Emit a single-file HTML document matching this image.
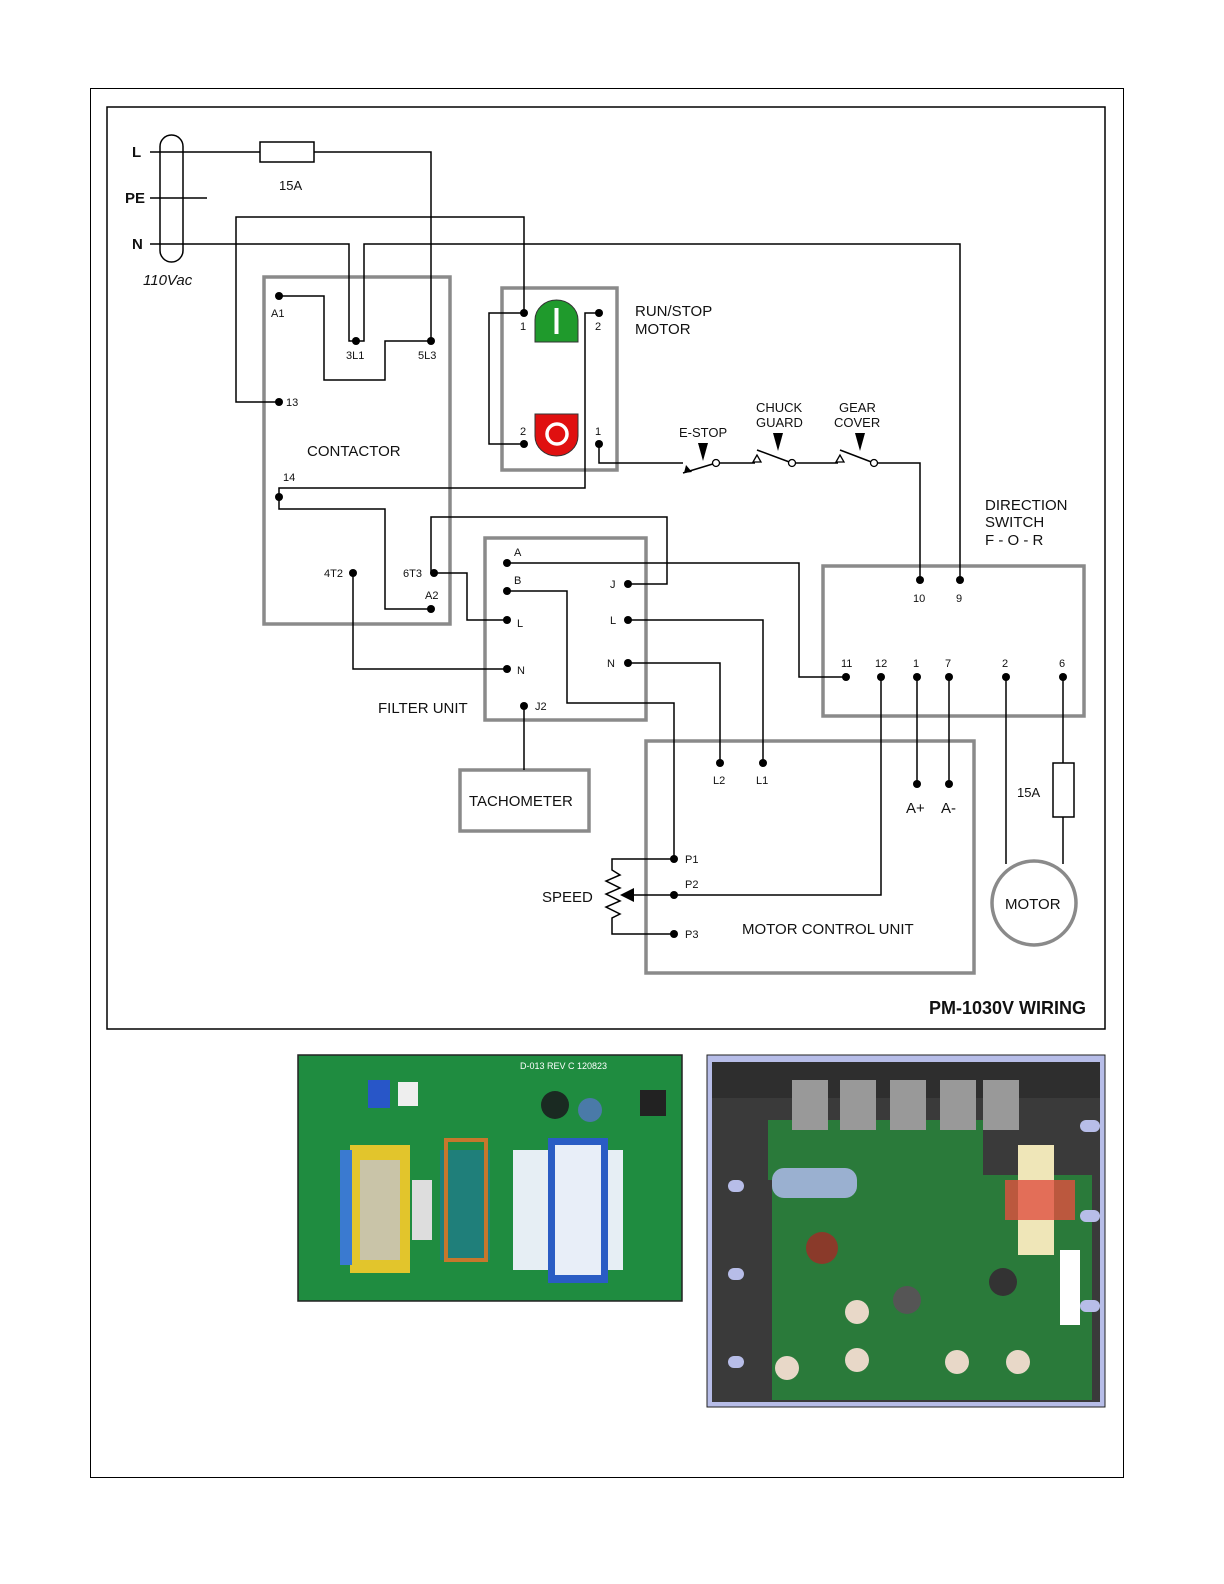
<!DOCTYPE html>
<html><head><meta charset="utf-8"><style>
html,body{margin:0;padding:0;background:#fff;width:1224px;height:1584px;overflow:hidden}
svg{display:block}
text{font-family:"Liberation Sans",Arial,sans-serif;fill:#111}
</style></head><body>
<svg width="1224" height="1584" viewBox="0 0 1224 1584" xmlns="http://www.w3.org/2000/svg" style="position:absolute;left:0;top:0">
<rect x="90.5" y="88.5" width="1033" height="1389" fill="none" stroke="#000" stroke-width="1"/>
<rect x="107" y="107" width="998" height="922" fill="none" stroke="#000" stroke-width="1.5"/>

<g fill="none" stroke="#8a8a8a" stroke-width="3.5">
<rect x="264" y="277" width="186" height="347"/>
<rect x="502" y="288" width="115" height="182"/>
<rect x="485" y="538" width="161" height="182"/>
<rect x="460" y="770" width="129" height="61"/>
<rect x="646" y="741" width="328" height="232"/>
<rect x="823" y="566" width="261" height="150"/>
<circle cx="1034" cy="903" r="42"/>
</g>

<g fill="none" stroke="#000" stroke-width="1.5">
<rect x="160" y="135" width="23" height="127" rx="11.5"/>
<polyline points="150,152 431,152 431,341"/>
<rect x="260" y="142" width="54" height="20" fill="#fff"/>
<line x1="150" y1="198" x2="207" y2="198"/>
<polyline points="150,244 349,244 349,341 356,341"/>
<polyline points="356,341 364,341 364,244 960,244 960,580"/>
<polyline points="279,402 236,402 236,217 524,217 524,313"/>
<polyline points="279,296 324,296 324,380 385,380 385,341 431,341"/>
<polyline points="524,313 489,313 489,444 524,444"/>
<polyline points="599,313 585,313 585,488 279,488 279,509 385,509 385,609 431,609"/>
<polyline points="599,444 599,463 683,463"/>
<line x1="683" y1="473" x2="716" y2="463"/>
<line x1="720" y1="463" x2="755" y2="463"/>
<line x1="757" y1="450" x2="792" y2="463"/>
<line x1="796" y1="463" x2="838" y2="463"/>
<line x1="840" y1="450" x2="874" y2="463"/>
<polyline points="878,463 920,463 920,580"/>
<polyline points="434,573 431,573 431,517 667,517 667,584 628,584"/>
<polyline points="434,573 467,573 467,620 507,620"/>
<polyline points="353,573 353,669 507,669"/>
<polyline points="507,563 799,563 799,677 846,677"/>
<polyline points="507,591 567,591 567,703 674,703 674,859"/>
<polyline points="628,620 763,620 763,763"/>
<polyline points="628,663 720,663 720,763"/>
<line x1="524" y1="706" x2="524" y2="770"/>
<line x1="917" y1="677" x2="917" y2="784"/>
<line x1="949" y1="677" x2="949" y2="784"/>
<polyline points="881,677 881,895 630,895"/>
<polyline points="674,859 612,859 612,870 620,875 606,881 620,888 606,894 620,901 606,907 620,914 612,918 612,934 674,934"/>
<line x1="1006" y1="677" x2="1006" y2="864"/>
<line x1="1063" y1="677" x2="1063" y2="864"/>
<rect x="1053" y="763" width="21" height="54" fill="#fff"/>
</g>
<polygon points="620,895 634,888 634,902" fill="#000"/>
<g fill="#000">
<polygon points="698,443 708,443 703,461"/>
<polygon points="773,433 783,433 778,451"/>
<polygon points="855,433 865,433 860,451"/>
<polygon points="686,465 692,472 684,473"/>
</g>
<g fill="#fff" stroke="#000" stroke-width="1.3">
<circle cx="716" cy="463" r="3.5"/><circle cx="792" cy="463" r="3.5"/><circle cx="874" cy="463" r="3.5"/>
<polygon points="757,455 753,462 761,462"/><polygon points="840,455 836,462 844,462"/>
</g>

<path d="M535,342 L535,320 A21.5,20 0 0 1 578,320 L578,342 Z" fill="#1f9a2c" stroke="#333" stroke-width="1"/>
<rect x="554.5" y="308" width="4" height="26" fill="#fff"/>
<path d="M535,414 L578,414 L578,436 A21.5,20 0 0 1 535,436 Z" fill="#e01010" stroke="#333" stroke-width="1"/>
<circle cx="557" cy="434" r="10" fill="none" stroke="#fff" stroke-width="3.5"/>

<g fill="#000">
<circle cx="356" cy="341" r="4"/><circle cx="431" cy="341" r="4"/><circle cx="279" cy="296" r="4"/><circle cx="279" cy="402" r="4"/>
<circle cx="279" cy="497" r="4"/><circle cx="431" cy="609" r="4"/><circle cx="353" cy="573" r="4"/><circle cx="434" cy="573" r="4"/>
<circle cx="524" cy="313" r="4"/><circle cx="599" cy="313" r="4"/><circle cx="524" cy="444" r="4"/><circle cx="599" cy="444" r="4"/>
<circle cx="507" cy="563" r="4"/><circle cx="507" cy="591" r="4"/><circle cx="507" cy="620" r="4"/><circle cx="507" cy="669" r="4"/>
<circle cx="628" cy="584" r="4"/><circle cx="628" cy="620" r="4"/><circle cx="628" cy="663" r="4"/><circle cx="524" cy="706" r="4"/>
<circle cx="920" cy="580" r="4"/><circle cx="960" cy="580" r="4"/>
<circle cx="846" cy="677" r="4"/><circle cx="881" cy="677" r="4"/><circle cx="917" cy="677" r="4"/><circle cx="949" cy="677" r="4"/><circle cx="1006" cy="677" r="4"/><circle cx="1063" cy="677" r="4"/>
<circle cx="720" cy="763" r="4"/><circle cx="763" cy="763" r="4"/><circle cx="917" cy="784" r="4"/><circle cx="949" cy="784" r="4"/>
<circle cx="674" cy="859" r="4"/><circle cx="674" cy="895" r="4"/><circle cx="674" cy="934" r="4"/>
</g>

<g font-size="15" font-weight="bold"><text x="132" y="157">L</text><text x="125" y="203">PE</text><text x="132" y="249">N</text></g>
<text x="143" y="285" font-size="15" font-style="italic">110Vac</text>
<text x="279" y="190" font-size="13">15A</text>
<g font-size="11">
<text x="271" y="317">A1</text><text x="346" y="359">3L1</text><text x="418" y="359">5L3</text><text x="286" y="406">13</text>
<text x="283" y="481">14</text><text x="324" y="577">4T2</text><text x="403" y="577">6T3</text><text x="425" y="599">A2</text>
<text x="520" y="330">1</text><text x="595" y="330">2</text><text x="520" y="435">2</text><text x="595" y="435">1</text>
<text x="514" y="556">A</text><text x="514" y="584">B</text><text x="517" y="627">L</text><text x="517" y="674">N</text>
<text x="610" y="588">J</text><text x="610" y="624">L</text><text x="607" y="667">N</text><text x="535" y="710">J2</text>
<text x="913" y="602">10</text><text x="956" y="602">9</text>
<text x="841" y="667">11</text><text x="875" y="667">12</text><text x="913" y="667">1</text><text x="945" y="667">7</text><text x="1002" y="667">2</text><text x="1059" y="667">6</text>
<text x="713" y="784">L2</text><text x="756" y="784">L1</text>
<text x="685" y="863">P1</text><text x="685" y="888">P2</text><text x="685" y="938">P3</text>
</g>
<g font-size="15">
<text x="307" y="456">CONTACTOR</text>
<text x="635" y="316">RUN/STOP</text><text x="635" y="334">MOTOR</text>
<text x="985" y="510">DIRECTION</text><text x="985" y="527">SWITCH</text><text x="985" y="545">F - O - R</text>
<text x="378" y="713">FILTER UNIT</text>
<text x="469" y="806">TACHOMETER</text>
<text x="906" y="813">A+</text><text x="941" y="813">A-</text>
<text x="542" y="902">SPEED</text>
<text x="742" y="934">MOTOR CONTROL UNIT</text>
<text x="1005" y="909">MOTOR</text>
</g>
<g font-size="13">
<text x="679" y="437">E-STOP</text><text x="756" y="412">CHUCK</text><text x="756" y="427">GUARD</text>
<text x="839" y="412">GEAR</text><text x="834" y="427">COVER</text>
<text x="1017" y="797">15A</text>
</g>
<text x="1086" y="1014" font-size="18" font-weight="bold" text-anchor="end">PM-1030V WIRING</text>

<rect x="298" y="1055" width="384" height="246" fill="#1f8c40" stroke="#222" stroke-width="1.5"/>
<rect x="350" y="1145" width="60" height="128" fill="#e2c52c"/>
<rect x="360" y="1160" width="40" height="100" fill="#c9c4a8"/>
<rect x="340" y="1150" width="12" height="115" fill="#3a7ad0"/>
<rect x="440" y="1150" width="50" height="110" fill="#1f7f7a"/>
<rect x="446" y="1140" width="40" height="120" fill="none" stroke="#c7772c" stroke-width="4"/>
<rect x="412" y="1180" width="20" height="60" fill="#ddd"/>
<rect x="513" y="1150" width="110" height="120" fill="#e6eef4"/>
<rect x="548" y="1138" width="60" height="145" fill="#2a5cc4"/>
<rect x="555" y="1145" width="46" height="130" fill="#e8eef8"/>
<circle cx="555" cy="1105" r="14" fill="#1a2a22"/><circle cx="590" cy="1110" r="12" fill="#4a7aa8"/>
<rect x="368" y="1080" width="22" height="28" fill="#2856c8"/>
<rect x="398" y="1082" width="20" height="24" fill="#eee"/>
<rect x="640" y="1090" width="26" height="26" fill="#222"/>
<text x="520" y="1069" font-size="9" style="fill:#fff">D-013 REV C 120823</text>

<rect x="707" y="1055" width="398" height="352" fill="#b7bde8" stroke="#222" stroke-width="1"/>
<rect x="712" y="1062" width="388" height="340" fill="#3a3a3a"/>
<rect x="712" y="1062" width="388" height="36" fill="#2e2e2e"/>
<rect x="772" y="1175" width="320" height="225" fill="#2a7a3a"/>
<rect x="768" y="1120" width="215" height="60" fill="#2a7a3a"/>
<g fill="#999"><rect x="792" y="1080" width="36" height="50"/><rect x="840" y="1080" width="36" height="50"/><rect x="890" y="1080" width="36" height="50"/><rect x="940" y="1080" width="36" height="50"/><rect x="983" y="1080" width="36" height="50"/></g>
<rect x="772" y="1168" width="85" height="30" rx="12" fill="#9ab0d0"/>
<rect x="1018" y="1145" width="36" height="110" fill="#efe6b8"/>
<rect x="1005" y="1180" width="70" height="40" fill="#e05040" opacity="0.8"/>
<rect x="1060" y="1250" width="20" height="75" fill="#fff"/>
<circle cx="822" cy="1248" r="16" fill="#8a3a2a"/>
<g fill="#e8d8c8"><circle cx="787" cy="1368" r="12"/><circle cx="857" cy="1360" r="12"/><circle cx="957" cy="1362" r="12"/><circle cx="1018" cy="1362" r="12"/><circle cx="857" cy="1312" r="12"/></g>
<circle cx="1003" cy="1282" r="14" fill="#333"/><circle cx="907" cy="1300" r="14" fill="#555"/>
<rect x="728" y="1180" width="16" height="12" rx="6" fill="#b7bde8"/><rect x="728" y="1268" width="16" height="12" rx="6" fill="#b7bde8"/><rect x="728" y="1356" width="16" height="12" rx="6" fill="#b7bde8"/>
<rect x="1080" y="1120" width="20" height="12" rx="6" fill="#b7bde8"/><rect x="1080" y="1210" width="20" height="12" rx="6" fill="#b7bde8"/><rect x="1080" y="1300" width="20" height="12" rx="6" fill="#b7bde8"/>
</svg>
</body></html>
